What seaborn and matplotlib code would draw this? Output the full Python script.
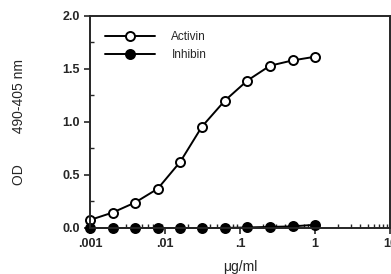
import matplotlib
matplotlib.use("Agg")
import matplotlib.pyplot as plt
import matplotlib.ticker as mticker
import numpy as np
import pandas as pd
import seaborn as sns

conc = [0.001, 0.002, 0.004, 0.008, 0.016, 0.031, 0.0625, 0.125, 0.25, 0.5, 1.0]
activin = [0.075, 0.145, 0.24, 0.37, 0.625, 0.955, 1.2, 1.39, 1.53, 1.58, 1.615]
inhibin = [0.0, 0.0, 0.0, 0.0, 0.0, 0.0, 0.0, 0.005, 0.01, 0.015, 0.03]

xticks = [0.001, 0.01, 0.1, 1, 10]
xticklabels = [".001", ".01", ".1", "1", "10"]

df = pd.DataFrame({
    "conc": conc * 2,
    "od": activin + inhibin,
    "series": ["Activin"] * len(conc) + ["Inhibin"] * len(conc),
})

sns.set_style("ticks")
plt.rcParams["font.family"] = ["Liberation Sans", "DejaVu Sans"]

fig = plt.figure(figsize=(3.91, 2.74), dpi=100)
ax = fig.add_axes([0.230, 0.168, 0.768, 0.774])

for name, face in [("Activin", "white"), ("Inhibin", "black")]:
    sub = df[df["series"] == name]
    sns.lineplot(data=sub, x="conc", y="od", ax=ax, color="black", lw=1.4,
                 marker="o", markersize=6.5, markerfacecolor=face,
                 markeredgecolor="black", markeredgewidth=1.4, label=name,
                 clip_on=False)

ax.set_xscale("log")
ax.set_xlim(0.001, 10)
ax.set_ylim(0, 2.0)
ax.set_xticks(xticks)
ax.set_xticklabels(xticklabels, fontweight="bold")
ax.xaxis.set_minor_locator(mticker.LogLocator(base=10, subs=np.arange(2, 10)))
ax.xaxis.set_minor_formatter(mticker.NullFormatter())
ax.set_yticks([0, 0.5, 1.0, 1.5, 2.0])
ax.set_yticklabels(["0.0", "0.5", "1.0", "1.5", "2.0"], fontweight="bold")
ax.yaxis.set_minor_locator(mticker.MultipleLocator(0.25))

ax.tick_params(axis="both", which="major", direction="out", length=4, width=1.2,
               labelsize=9)
ax.tick_params(axis="both", which="minor", direction="in", length=3, width=1)
for s in ax.spines.values():
    s.set_linewidth(1.4)
    s.set_visible(True)

ax.set_xlabel("μg/ml", fontsize=10, labelpad=7)
ax.set_ylabel("OD        490-405 nm", fontsize=10, labelpad=26)

leg = ax.legend(loc="upper left", frameon=False, fontsize=8.5, handlelength=4.2,
                borderaxespad=0.9, labelspacing=0.5, handletextpad=1.4,
                borderpad=0.4)

fig.savefig("out.png", dpi=100)
